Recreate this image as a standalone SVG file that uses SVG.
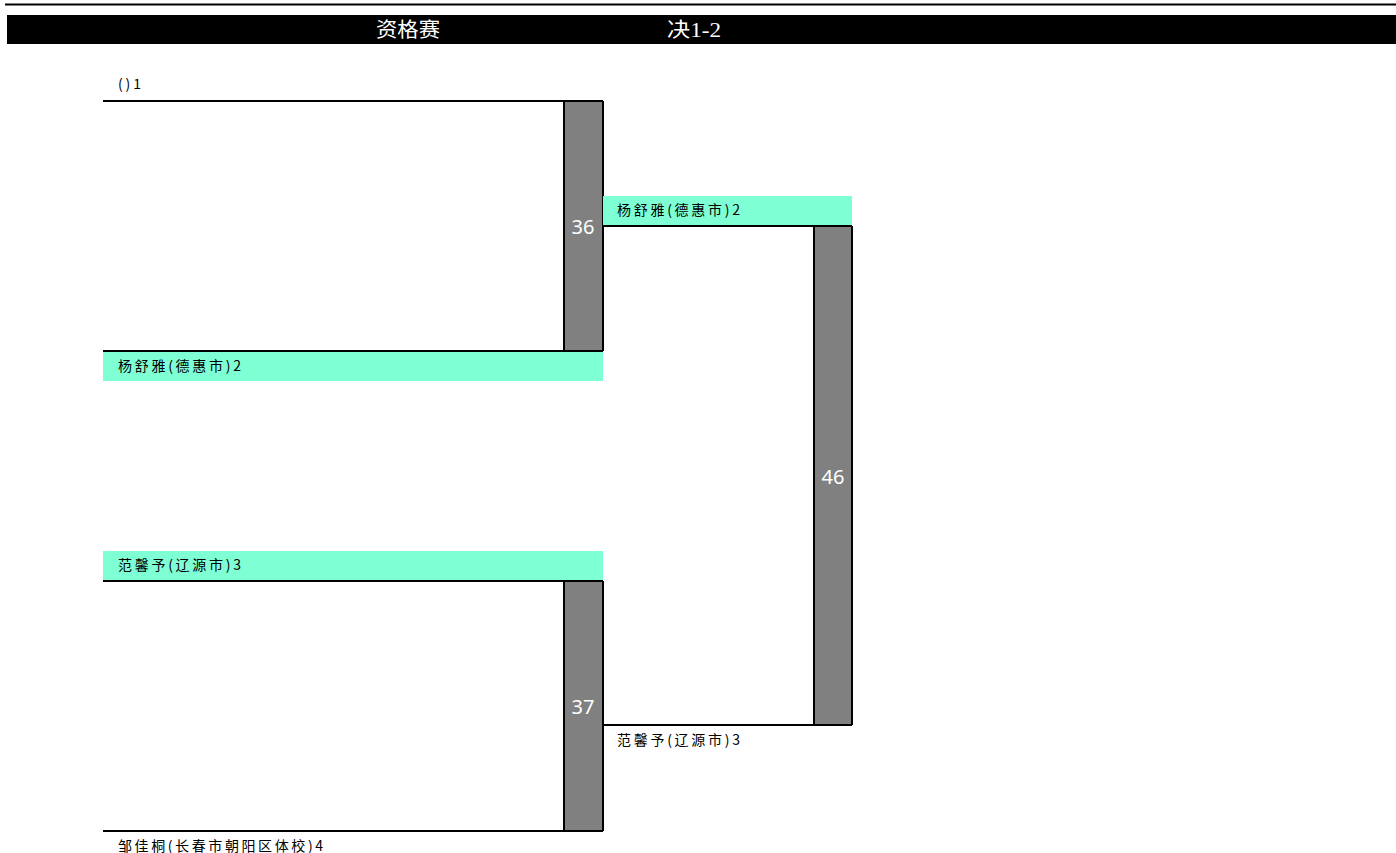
<svg xmlns="http://www.w3.org/2000/svg" width="1396" height="853" viewBox="0 0 1396 853">
<style>
.hdr{font-family:"Liberation Serif","Noto Sans CJK SC",serif;font-size:20px;fill:#fff}
.nm{font-family:"Noto Sans CJK SC","Liberation Sans",sans-serif;font-size:14px;fill:#000}
.num{font-family:"Noto Sans","Liberation Sans",sans-serif;font-size:20px;fill:#fff;text-anchor:middle}
.bar{fill:#808080}
.edge{stroke:#000;stroke-width:2;fill:none}
.win{fill:#7fffd4}
</style>
<g id="header">
<line x1="5" y1="4.5" x2="1396" y2="4.5" stroke="#000" stroke-width="2"/>
<rect x="7" y="15" width="1389" height="29" fill="#000"/>
<text class="hdr" x="376" y="37" textLength="64" lengthAdjust="spacingAndGlyphs">资格赛</text>
<text class="hdr" x="667" y="37" textLength="54" lengthAdjust="spacingAndGlyphs">决1-2</text>
</g>
<g id="match36">
<rect class="bar" x="564" y="101" width="39" height="250"/>
<line class="edge" x1="564" y1="101" x2="564" y2="351"/>
<line class="edge" x1="603" y1="101" x2="603" y2="351"/>
<text class="num" x="583" y="234">36</text>
</g>
<g id="match37">
<rect class="bar" x="564" y="581" width="39" height="250"/>
<line class="edge" x1="564" y1="581" x2="564" y2="831"/>
<line class="edge" x1="603" y1="581" x2="603" y2="831"/>
<text class="num" x="583" y="714">37</text>
</g>
<g id="match46">
<rect class="bar" x="814" y="226" width="38" height="499"/>
<line class="edge" x1="814" y1="226" x2="814" y2="725"/>
<line class="edge" x1="852" y1="226" x2="852" y2="725"/>
<text class="num" x="833" y="484">46</text>
</g>
<g id="p1">
<text class="nm" x="118" y="89" textLength="23" lengthAdjust="spacing">()1</text>
</g>
<g id="p2">
<rect class="win" x="103" y="352" width="500" height="29"/>
<text class="nm" x="118" y="371" textLength="123" lengthAdjust="spacing">杨舒雅(德惠市)2</text>
</g>
<g id="p3">
<rect class="win" x="103" y="551" width="500" height="29"/>
<text class="nm" x="118" y="570" textLength="123" lengthAdjust="spacing">范馨予(辽源市)3</text>
</g>
<g id="p4">
<text class="nm" x="118" y="851" textLength="205" lengthAdjust="spacing">邹佳桐(长春市朝阳区体校)4</text>
</g>
<g id="w36">
<rect class="win" x="603" y="196" width="249" height="29"/>
<text class="nm" x="617" y="215" textLength="123" lengthAdjust="spacing">杨舒雅(德惠市)2</text>
</g>
<g id="w37">
<text class="nm" x="617" y="745" textLength="123" lengthAdjust="spacing">范馨予(辽源市)3</text>
</g>
<g id="connectors">
<line class="edge" x1="103" y1="101" x2="603" y2="101"/>
<line class="edge" x1="103" y1="351" x2="603" y2="351"/>
<line class="edge" x1="103" y1="581" x2="603" y2="581"/>
<line class="edge" x1="103" y1="831" x2="603" y2="831"/>
<line class="edge" x1="603" y1="226" x2="852" y2="226"/>
<line class="edge" x1="603" y1="725" x2="852" y2="725"/>
</g>
</svg>
